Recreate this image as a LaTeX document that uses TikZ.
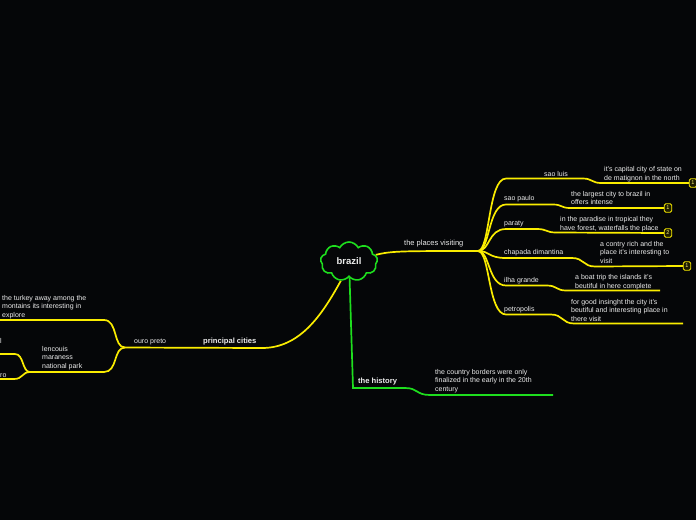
\documentclass[tikz,border=0pt]{standalone}
\usepackage{fontspec}
\setmainfont{Liberation Sans}
\usetikzlibrary{shapes.symbols}
\definecolor{bg}{RGB}{5,6,8}
\definecolor{ylw}{RGB}{250,236,0}
\definecolor{grn}{RGB}{30,222,30}
\definecolor{txt}{RGB}{236,236,236}
\definecolor{badgefill}{RGB}{30,28,0}
\pgfdeclarelayer{background}
\pgfsetlayers{background,main}
\tikzset{
  lbl/.style={text=txt, font=\fontsize{7}{8.4}\selectfont, inner sep=0pt, anchor=base west},
  toplbl/.style={text=txt, font=\fontsize{7.5}{9}\selectfont, inner sep=0pt, anchor=base west},
  boldlbl/.style={text=txt, font=\bfseries\fontsize{7.6}{9}\selectfont, inner sep=0pt, anchor=base west},
  multi/.style={lbl, align=left, anchor=north west},
  ybr/.style={draw=ylw, line width=1.7pt},
  gbr/.style={draw=grn, line width=1.7pt},
  badge/.style={draw=ylw, fill=badgefill, rounded corners=1.5pt, minimum width=7.5pt, minimum height=8.5pt,
    inner sep=0pt, line width=0.8pt, text=ylw!55!white, font=\fontsize{5.5}{6}\selectfont},
  cloudbox/.style={cloud, cloud puffs=9, cloud puff arc=125, aspect=1.45, draw=grn, line width=1.6pt, fill=bg,
    minimum width=57pt, minimum height=39pt, inner sep=0pt, text=txt,
    font=\bfseries\fontsize{9.5}{10}\selectfont}
}
\begin{document}
\begin{tikzpicture}[x=1pt,y=-1pt]
\begin{pgfonlayer}{background}
\fill[bg] (0,0) rectangle (696,520);
\end{pgfonlayer}
\useasboundingbox (0,0) rectangle (696,520);

% ---------- hubs and free ends ----------
\coordinate (pvhub) at (478,251);
\coordinate (pchub) at (125,347.5);
\coordinate (lmhub) at (30,372);
\coordinate (ipend) at (683,323.5);
\coordinate (igend) at (660,290.5);
\coordinate (tkend) at (0,320);
\coordinate (lend) at (0,354);
\coordinate (roend) at (0,379);
\coordinate (hcorner) at (353,388);
\coordinate (hend) at (553,395);

% ---------- badges ----------
\node[badge] (b1) at (693,183) {1};
\node[badge] (b2) at (668,208) {1};
\node[badge] (b3) at (668,233) {2};
\node[badge] (b4) at (687,266) {1};

% ---------- central cloud ----------
\node[cloudbox] (brazil) at (349,261.5) {brazil};

\begin{pgfonlayer}{background}
% ---------- the places visiting ----------
\draw[ybr] (brazil.14) .. controls (392,251) and (400,251) .. (pvhub);
\draw[ybr] (pvhub) .. controls (490,251) and (488,178.5) .. (506,178.5) -- (583,178.5)
  .. controls (592,178.5) and (592,183) .. (601,183) -- (b1.west);
\draw[ybr] (pvhub) .. controls (490,251) and (488,204.5) .. (506,204.5) -- (553,204.5)
  .. controls (562,204.5) and (561,208) .. (570,208) -- (b2.west);
\draw[ybr] (pvhub) .. controls (490,251) and (488,229) .. (506,229) -- (537,229)
  .. controls (547,229) and (546,232.5) .. (556,232.5) -- (b3.west);
\draw[ybr] (pvhub) .. controls (490,251) and (488,258) .. (506,258) -- (572,258)
  .. controls (584,258) and (583,266.5) .. (595,266.5) -- (b4.west);
\draw[ybr] (pvhub) .. controls (490,251) and (488,285.5) .. (506,285.5) -- (547,285.5)
  .. controls (557,285.5) and (556,290.5) .. (566,290.5) -- (igend);
\draw[ybr] (pvhub) .. controls (490,251) and (488,314.5) .. (506,314.5) -- (551,314.5)
  .. controls (563,314.5) and (562,323.5) .. (574,323.5) -- (ipend);

% ---------- principal cities ----------
\draw[ybr] (brazil.-113) .. controls (322,315) and (300,348) .. (262,348) -- (pchub);
\draw[ybr] (pchub) .. controls (113,347.5) and (118,320) .. (104,320) -- (tkend);
\draw[ybr] (pchub) .. controls (113,347.5) and (118,372) .. (104,372) -- (lmhub);
\draw[ybr] (lmhub) .. controls (22,372) and (24,354) .. (15,354) -- (lend);
\draw[ybr] (lmhub) .. controls (22,372) and (23,379) .. (14,379) -- (roend);

% ---------- the history ----------
\draw[gbr] (brazil.-88) -- (hcorner) -- (405,388) .. controls (418,388) and (416,395) .. (430,395) -- (hend);
\end{pgfonlayer}

% ---------- labels ----------
\node[toplbl] (pv) at (404,245.5) {the places visiting};
\node[lbl] (sl) at (544,176) {sao luis};
\node[lbl] (sp) at (504,200.5) {sao paulo};
\node[lbl] (pa) at (504,225.5) {paraty};
\node[lbl] (cd) at (504,254.5) {chapada dimantina};
\node[lbl] (ig) at (504,282.8) {ilha grande};
\node[lbl] (pe) at (504,311.8) {petropolis};

\node[multi] (sld) at (604,166.5) {it's capital city of state on\\de matignon in the north};
\node[multi] (spd) at (571,191) {the largest city to brazil in\\offers intense};
\node[multi] (pad) at (560,216.5) {in the paradise in tropical they\\have forest, waterfalls the place};
\node[multi] (cdd) at (600,241) {a contry rich and the\\place it's interesting to\\visit};
\node[multi] (igd) at (575,274.5) {a boat trip the islands it's\\beutiful in here complete};
\node[multi] (ped) at (571,299) {for good insinght the city it's\\beutiful and interesting place in\\there visit};

\node[boldlbl] (pc) at (203,343.5) {principal cities};
\node[lbl] (op) at (134,343.2) {ouro preto};
\node[multi] (tk) at (2,295) {the turkey away among the\\montains its interesting in\\explore};
\node[multi] (lm) at (42,346) {lencouis\\maraness\\national park};
\node[lbl] (ll) at (0,343.8) {l};
\node[lbl] (ro) at (0,377.8) {ro};

\node[boldlbl] (th) at (358,383) {the history};
\node[multi] (thd) at (435,369) {the country borders were only\\finalized in the early in the 20th\\century};
\end{tikzpicture}
\end{document}
